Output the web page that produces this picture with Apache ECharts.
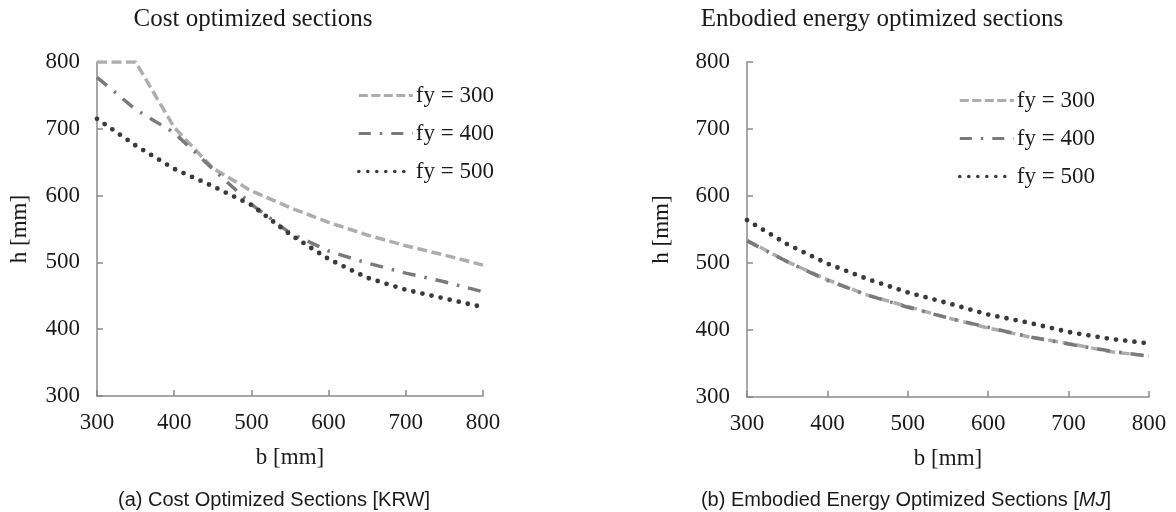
<!DOCTYPE html>
<html><head><meta charset="utf-8">
<script src="https://cdn.jsdelivr.net/npm/echarts@6/dist/echarts.min.js"></script>
<style>html,body{margin:0;padding:0;background:#fff}#c{width:1176px;height:512px}</style>
</head><body><div id="c"></div>
<script>
const bValues = [300, 350, 400, 450, 500, 550, 600, 650, 700, 750, 800];
const seriesNames = ['fy = 300', 'fy = 400', 'fy = 500'];
const costFy300 = [800, 800, 702, 641, 607, 582, 560, 541, 525, 511, 496];
const costFy400 = [777, 729, 694, 640, 587, 544, 517, 499, 484, 471, 456];
const costFy500 = [715, 675, 640, 614, 586, 542, 505, 477, 459, 446, 433];
const energyFy300 = [534, 502, 475, 452, 435, 418, 403, 390, 380, 368, 361];
const energyFy400 = [533, 502, 474, 452, 434, 418, 404, 390, 379, 369, 361];
const energyFy500 = [564, 528, 499, 476, 456, 440, 423, 411, 397, 387, 380];
const chartTitles = ['Cost optimized sections', 'Enbodied energy optimized sections'];
const captionA = '(a) Cost Optimized Sections [KRW]';
const captionB = '(b) Embodied Energy Optimized Sections [{i|MJ}]';
const axisNameX = 'b [mm]';
const axisNameY = 'h [mm]';

const SERIF = 'Liberation Serif';
const SANS = 'Liberation Sans';
const txt = '#1a1a1a';
const axisColor = '#8a8a8a';

function pairs(ys) { return bValues.map((b, i) => [b, ys[i]]); }

const styles = [
  { color: '#adadad', lineStyle: { width: 3.5, type: [10, 4.5] }, legendLine: { width: 3, type: [9, 3.5] } },
  { color: '#7a7a7a', lineStyle: { width: 3.5, type: [13, 9, 2.5, 9] }, legendLine: { width: 3, type: [12, 9, 2.5, 9] } },
  { color: '#3a3a3a', lineStyle: { width: 4.8, type: [0, 9.3], cap: 'round' }, legendLine: { width: 3.6, type: [0, 9], cap: 'round' } }
];

function mkSeries(name, idx, ys, gi) {
  return {
    type: 'line', name: name, xAxisIndex: gi, yAxisIndex: gi,
    data: pairs(ys), symbol: 'none', smooth: false, animation: false,
    color: styles[idx].color,
    lineStyle: Object.assign({ color: styles[idx].color }, styles[idx].lineStyle)
  };
}

function xAx(gi) {
  return {
    type: 'value', gridIndex: gi, min: 300, max: 800, interval: 100,
    axisLine: { show: true, lineStyle: { color: axisColor, width: 1.5 } },
    axisTick: { show: true, inside: true, length: 6, lineStyle: { color: axisColor, width: 1.5 } },
    splitLine: { show: false },
    axisLabel: { margin: 15, color: txt, fontFamily: SERIF, fontSize: 23 },
    name: axisNameX, nameLocation: 'middle', nameGap: 50,
    nameTextStyle: { color: txt, fontFamily: SERIF, fontSize: 23 }
  };
}
function yAx(gi, gap) {
  return {
    type: 'value', gridIndex: gi, min: 300, max: 800, interval: 100,
    axisLine: { show: true, lineStyle: { color: axisColor, width: 1.5 } },
    axisTick: { show: true, inside: true, length: 6, lineStyle: { color: axisColor, width: 1.5 } },
    splitLine: { show: false },
    axisLabel: { margin: 17, color: txt, fontFamily: SERIF, fontSize: 23 },
    name: axisNameY, nameLocation: 'middle', nameGap: gap,
    nameTextStyle: { color: txt, fontFamily: SERIF, fontSize: 23 }
  };
}
function legend(left, top) {
  return {
    data: seriesNames.map((n, i) => ({
      name: n,
      lineStyle: Object.assign({ color: styles[i].color }, styles[i].legendLine),
      itemStyle: { color: 'transparent', borderColor: 'transparent', borderWidth: 0, opacity: 0 }
    })),
    orient: 'vertical', left: left, top: top,
    itemWidth: 54, itemHeight: 14, itemGap: 15,
    textStyle: { color: txt, fontFamily: SERIF, fontSize: 23, padding: [0, 0, 0, -2] },
    selectedMode: false
  };
}

const chart = echarts.init(document.getElementById('c'), null, { renderer: 'canvas' });
chart.setOption({
  backgroundColor: '#ffffff',
  animation: false,
  title: [
    { text: chartTitles[0], left: 248, top: 2, textAlign: 'center',
      textStyle: { fontFamily: SERIF, fontSize: 25, fontWeight: 'normal', color: txt } },
    { text: chartTitles[1], left: 877, top: 2, textAlign: 'center',
      textStyle: { fontFamily: SERIF, fontSize: 25, fontWeight: 'normal', color: txt } },
    { text: captionA, left: 269, top: 485, textAlign: 'center',
      textStyle: { fontFamily: SANS, fontSize: 20, fontWeight: 'normal', color: txt } },
    { text: captionB, left: 901, top: 485, textAlign: 'center',
      textStyle: { fontFamily: SANS, fontSize: 20, fontWeight: 'normal', color: txt,
        rich: { i: { fontFamily: SANS, fontSize: 20, fontStyle: 'italic', color: txt } } } }
  ],
  legend: [legend(352, 79), legend(953, 84)],
  grid: [
    { left: 97, right: 693, top: 62, bottom: 116 },
    { left: 747, right: 27, top: 62, bottom: 115 }
  ],
  xAxis: [xAx(0), xAx(1)],
  yAxis: [yAx(0, 66), yAx(1, 74)],
  series: [
    mkSeries(seriesNames[0], 0, costFy300, 0),
    mkSeries(seriesNames[1], 1, costFy400, 0),
    mkSeries(seriesNames[2], 2, costFy500, 0),
    mkSeries(seriesNames[0], 0, energyFy300, 1),
    mkSeries(seriesNames[1], 1, energyFy400, 1),
    mkSeries(seriesNames[2], 2, energyFy500, 1)
  ]
});
</script>
</body></html>
